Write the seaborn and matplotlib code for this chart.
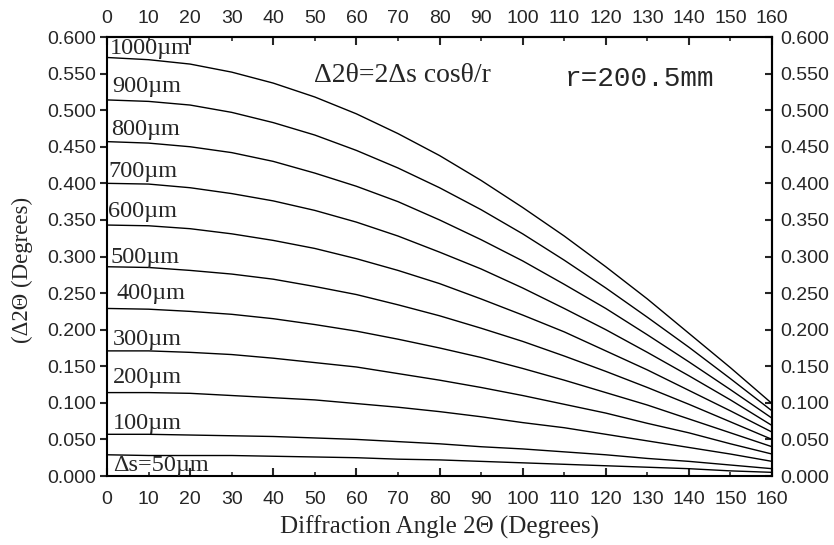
import pandas as pd
import seaborn as sns
import matplotlib.pyplot as plt
from matplotlib.ticker import FixedLocator, FormatStrFormatter

# diffraction angle 2-theta (degrees)
angle = [0, 10, 20, 30, 40, 50, 60, 70, 80, 90, 100, 110, 120, 130, 140, 150, 160]

# peak shift (degrees), one list per sample displacement
s50 = [0.029, 0.028, 0.028, 0.028, 0.027, 0.026, 0.025, 0.023, 0.022, 0.020, 0.018, 0.016, 0.014, 0.012, 0.010, 0.007, 0.005]
s100 = [0.057, 0.057, 0.056, 0.055, 0.054, 0.052, 0.050, 0.047, 0.044, 0.040, 0.037, 0.033, 0.029, 0.024, 0.020, 0.015, 0.010]
s200 = [0.114, 0.114, 0.113, 0.110, 0.107, 0.104, 0.099, 0.094, 0.088, 0.081, 0.073, 0.066, 0.057, 0.048, 0.039, 0.030, 0.020]
s300 = [0.171, 0.171, 0.169, 0.166, 0.161, 0.155, 0.149, 0.140, 0.131, 0.121, 0.110, 0.098, 0.086, 0.072, 0.059, 0.044, 0.030]
s400 = [0.229, 0.228, 0.225, 0.221, 0.215, 0.207, 0.198, 0.187, 0.175, 0.162, 0.147, 0.131, 0.114, 0.097, 0.078, 0.059, 0.040]
s500 = [0.286, 0.285, 0.281, 0.276, 0.269, 0.259, 0.248, 0.234, 0.219, 0.202, 0.184, 0.164, 0.143, 0.121, 0.098, 0.074, 0.050]
s600 = [0.343, 0.342, 0.338, 0.331, 0.322, 0.311, 0.297, 0.281, 0.263, 0.242, 0.220, 0.197, 0.171, 0.145, 0.117, 0.089, 0.060]
s700 = [0.400, 0.399, 0.394, 0.386, 0.376, 0.363, 0.347, 0.328, 0.306, 0.283, 0.257, 0.229, 0.200, 0.169, 0.137, 0.104, 0.069]
s800 = [0.457, 0.455, 0.450, 0.442, 0.430, 0.414, 0.396, 0.375, 0.350, 0.323, 0.294, 0.262, 0.229, 0.193, 0.156, 0.118, 0.079]
s900 = [0.514, 0.512, 0.507, 0.497, 0.483, 0.466, 0.445, 0.421, 0.394, 0.364, 0.331, 0.295, 0.257, 0.217, 0.176, 0.133, 0.089]
s1000 = [0.572, 0.569, 0.563, 0.552, 0.537, 0.518, 0.495, 0.468, 0.438, 0.404, 0.367, 0.328, 0.286, 0.242, 0.195, 0.148, 0.099]

series = [s50, s100, s200, s300, s400, s500, s600, s700, s800, s900, s1000]
curve_labels = ['Δs=50µm', '100µm', '200µm', '300µm', '400µm', '500µm',
                '600µm', '700µm', '800µm', '900µm', '1000µm']
label_x = [1.5, 1.5, 1.5, 1.5, 2.2, 0.8, 0.3, 0.3, 1.0, 1.2, 0.7]
label_y = [0.015, 0.072, 0.135, 0.186, 0.250, 0.298, 0.361, 0.416, 0.474, 0.532, 0.584]

x_major = [0, 20, 40, 60, 80, 100, 120, 140, 160]
x_minor = [10, 30, 50, 70, 90, 110, 130, 150]
y_ticks = [0.0, 0.05, 0.1, 0.15, 0.2, 0.25, 0.3, 0.35, 0.4, 0.45, 0.5, 0.55, 0.6]

rows = []
for lab, vals in zip(curve_labels, series):
    for a, v in zip(angle, vals):
        rows.append({'angle': a, 'shift': v, 'ds': lab})
df = pd.DataFrame(rows)

sns.set_style('ticks')
plt.rcParams['font.family'] = ['Liberation Sans', 'DejaVu Sans']
serif = ['Liberation Serif', 'DejaVu Serif']

fig = plt.figure(figsize=(8.34, 5.45), dpi=100)
ax = fig.add_axes([0.1283, 0.1266, 0.7974, 0.8055])

sns.lineplot(data=df, x='angle', y='shift', hue='ds', palette=['black'] * len(series),
             legend=False, linewidth=1.0, estimator=None, ax=ax)

ax.set_xlim(0, 160)
ax.set_ylim(0, 0.6)

for sp in ax.spines.values():
    sp.set_linewidth(1.5)
    sp.set_color('black')


def setup_x(axis_obj):
    axis_obj.set_major_locator(FixedLocator(x_major))
    axis_obj.set_minor_locator(FixedLocator(x_minor))
    axis_obj.set_major_formatter(FormatStrFormatter('%d'))
    axis_obj.set_minor_formatter(FormatStrFormatter('%d'))


def setup_y(axis_obj):
    axis_obj.set_major_locator(FixedLocator(y_ticks))
    axis_obj.set_major_formatter(FormatStrFormatter('%.3f'))


setup_x(ax.xaxis)
setup_y(ax.yaxis)
ax.tick_params(axis='x', which='major', direction='in', length=6, width=1.5, pad=11, labelsize=14)
ax.tick_params(axis='x', which='minor', direction='in', length=3, width=1.2, pad=11, labelsize=14)
ax.tick_params(axis='y', direction='out', length=5, width=1.5, pad=3, labelsize=14)

top = ax.secondary_xaxis('top')
setup_x(top.xaxis)
top.tick_params(axis='x', which='major', direction='in', length=6, width=1.5, pad=7, labelsize=14)
top.tick_params(axis='x', which='minor', direction='in', length=3, width=1.2, pad=7, labelsize=14)
top.spines['top'].set_linewidth(1.5)

right = ax.secondary_yaxis('right')
setup_y(right.yaxis)
right.tick_params(axis='y', direction='in', length=5, width=1.5, pad=6, labelsize=14)
right.spines['right'].set_linewidth(1.5)

for lab, x, y in zip(curve_labels, label_x, label_y):
    ax.text(x, y, lab, family=serif, fontsize=17.5, va='center', ha='left', clip_on=False)

ax.text(0.312, 0.912, 'Δ2θ=2Δs cosθ/r', transform=ax.transAxes, family=serif,
        fontsize=20, va='center', ha='left')
ax.text(0.688, 0.905, 'r=200.5mm', transform=ax.transAxes,
        family=['Liberation Mono', 'DejaVu Sans Mono'], fontsize=20, va='center', ha='left')

ax.set_xlabel('Diffraction Angle 2Θ (Degrees)', family=serif, fontsize=18, labelpad=5)
ax.set_ylabel('(Δ2Θ (Degrees)', family=serif, fontsize=16.5, labelpad=8)
ax.yaxis.set_label_coords(-0.112, 0.47)

fig.savefig('out.png', dpi=100)
